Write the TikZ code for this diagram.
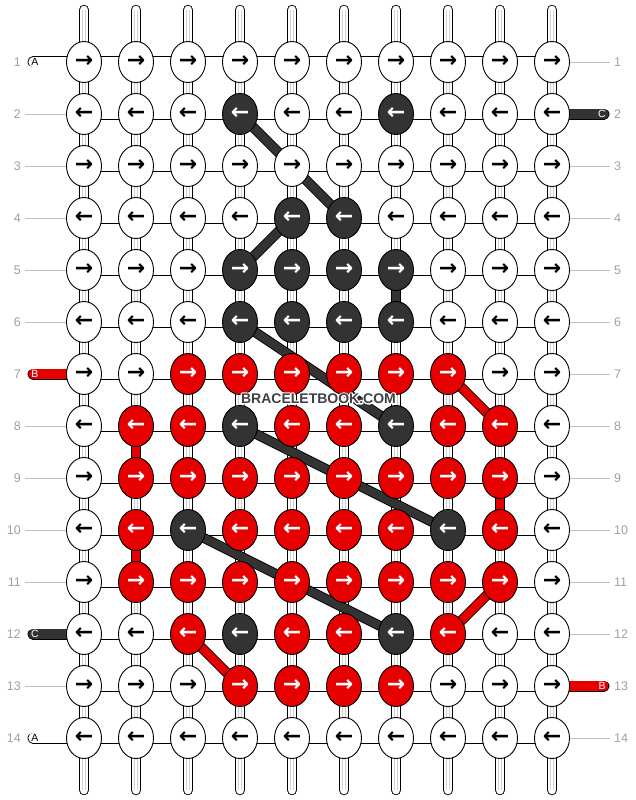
\documentclass[tikz,border=0pt]{standalone}
\usepackage{fontspec}
\setmainfont{Liberation Sans}
\newfontfamily\arrowfont{DejaVu Sans}
\usetikzlibrary{shapes.geometric}
\definecolor{kw}{HTML}{FFFFFF}
\definecolor{kd}{HTML}{333333}
\definecolor{kr}{HTML}{E60000}
\colorlet{tw}{black}
\colorlet{td}{white}
\colorlet{tr}{white}
\definecolor{lbl}{HTML}{A0A0A0}
\definecolor{guidecol}{HTML}{C0C0C0}
\definecolor{wmcol}{HTML}{404040}
\definecolor{seamcol}{HTML}{D0D0D0}
\newcommand\setknot[2]{\expandafter\gdef\csname kc#1\endcsname{#2}}
\begin{document}
\begin{tikzpicture}[x=1pt,y=-1pt,
  hbar/.style={draw=black,line width=0.9pt,double=white,double distance=9.2pt},
  vbar/.style={draw=black,line width=0.9pt,double=white,double distance=8.7pt},
  strand/.style={draw=black,line width=0.9pt,double distance=8.2pt},
  seam/.style={draw=seamcol,line width=0.5pt},
  knot/.style={ellipse,draw=black,line width=0.9pt,minimum width=35pt,minimum height=41pt,inner sep=0pt,
    font=\arrowfont\bfseries\fontsize{22}{22}\selectfont},
  rownum/.style={text=lbl,inner sep=0pt,font=\fontsize{12.5}{12.5}\selectfont},
  guide/.style={draw=guidecol,line width=0.8pt},
  stublbl/.style={inner sep=0pt,font=\fontsize{10.5}{10.5}\selectfont}]
\useasboundingbox (0,0) rectangle (636,800);
% knot colours
\foreach \p in {2-4,2-7,4-5,4-6,5-4,5-5,5-6,5-7,6-4,6-5,6-6,6-7,8-4,8-7,10-3,10-8,12-4,12-7}{\setknot{\p}{d}}
\foreach \p in {7-3,7-4,7-5,7-6,7-7,7-8,
  8-2,8-3,8-5,8-6,8-8,8-9,
  9-2,9-3,9-4,9-5,9-6,9-7,9-8,9-9,
  10-2,10-4,10-5,10-6,10-7,10-9,
  11-2,11-3,11-4,11-5,11-6,11-7,11-8,11-9,
  12-3,12-5,12-6,12-8,
  13-4,13-5,13-6,13-7}{\setknot{\p}{r}}
% coordinates
\foreach \r in {1,...,14}{
  \foreach \c in {1,...,10}{
    \coordinate (p-\r-\c) at ({84+52*(\c-1)},{62+52*(\r-1)});
  }
  \coordinate (gl-\r) at (25,{62+52*(\r-1)});
  \coordinate (gr-\r) at (610,{62+52*(\r-1)});
}
\foreach \c in {1,...,10}{
  \coordinate (t-\c) at ({84+52*(\c-1)},10);
  \coordinate (b-\c) at ({84+52*(\c-1)},790);
}
% row guide lines
\foreach \r in {2,3,4,5,6,8,9,10,11,13}{\draw[guide] (gl-\r) -- (p-\r-1);}
\foreach \r in {1,3,4,5,6,7,8,9,10,11,12,14}{\draw[guide] (p-\r-10) -- (gr-\r);}
% row numbers
\foreach \r in {1,...,14}{
  \node[rownum,anchor=east] (nl-\r) at (21,{62+52*(\r-1)}) {\r};
  \node[rownum,anchor=west] (nr-\r) at (614,{62+52*(\r-1)}) {\r};
}
% top and bottom thread ends
\foreach \c in {1,...,10}{
  \draw[vbar,line cap=round] (t-\c) -- (p-1-\c);
  \draw[vbar,line cap=round] (p-14-\c) -- (b-\c);
  \draw[seam] ([xshift=-1.6pt]t-\c) -- ([xshift=-1.6pt]p-1-\c);
  \draw[seam] ([xshift=1.6pt]t-\c) -- ([xshift=1.6pt]p-1-\c);
  \draw[seam] ([xshift=-1.6pt]p-14-\c) -- ([xshift=-1.6pt]b-\c);
  \draw[seam] ([xshift=1.6pt]p-14-\c) -- ([xshift=1.6pt]b-\c);
}
% horizontal links
\foreach \r in {1,...,14}{
  \foreach \c [count=\cn from 2] in {1,...,9}{
    \draw[hbar] (p-\r-\c) -- (p-\r-\cn);
  }
}
% vertical links
\foreach \r [count=\rn from 2] in {1,...,13}{
  \foreach \c in {1,...,10}{
    \draw[vbar] (p-\r-\c) -- (p-\rn-\c);
    \draw[seam] ([xshift=-1.6pt]p-\r-\c) -- ([xshift=-1.6pt]p-\rn-\c);
    \draw[seam] ([xshift=1.6pt]p-\r-\c) -- ([xshift=1.6pt]p-\rn-\c);
  }
}
% coloured vertical links
\draw[vbar,double=kd] (p-5-7) -- (p-6-7);
\draw[vbar,double=kr] (p-8-2) -- (p-9-2);
\draw[vbar,double=kr] (p-10-2) -- (p-11-2);
\draw[vbar,double=kr] (p-9-9) -- (p-10-9);
% side thread ends
\foreach \r/\col/\lab in {1/w/A,7/r/B,12/d/C,14/w/A}{
  \coordinate (sl-\r) at (33,{62+52*(\r-1)});
  \draw[hbar,double=k\col,line cap=round] (sl-\r) -- (p-\r-1);
  \node[stublbl,text=t\col] (al-\r) at (35,{62+52*(\r-1)}) {\lab};
}
\foreach \r/\col/\lab in {2/d/C,13/r/B}{
  \coordinate (sr-\r) at (604,{62+52*(\r-1)});
  \draw[hbar,double=k\col,line cap=round] (p-\r-10) -- (sr-\r);
  \node[stublbl,text=t\col] (ar-\r) at (602,{62+52*(\r-1)}) {\lab};
}
% diagonal strands
\draw[strand,double=kd] (p-2-4) -- (p-3-5) -- (p-4-6);
\draw[strand,double=kd] (p-4-5) -- (p-5-4);
\draw[strand,double=kd] (p-6-4) -- (p-8-7);
\draw[strand,double=kd] (p-8-4) -- (p-10-8);
\draw[strand,double=kd] (p-10-3) -- (p-12-7);
\draw[strand,double=kr] (p-7-8) -- (p-8-9);
\draw[strand,double=kr] (p-11-9) -- (p-12-8);
\draw[strand,double=kr] (p-12-3) -- (p-13-4);
% knots
\foreach \r in {1,...,14}{
  \foreach \c in {1,...,10}{
    \ifcsname kc\r-\c\endcsname\edef\kcol{\csname kc\r-\c\endcsname}\else\def\kcol{w}\fi
    \node[knot,fill=k\kcol,text=t\kcol] (k-\r-\c) at (p-\r-\c) {\ifodd\r →\else ←\fi};
  }
}
% watermark with light halo
\node[text=white,inner sep=0pt,font=\bfseries\fontsize{14}{14}\selectfont] (wmh) at (318.5,398.5)
  {\special{pdf:literal direct 1 Tr 2.6 w 1 j}BRACELETBOOK.COM\special{pdf:literal direct 0 Tr 0.4 w}};
\node[text=wmcol,inner sep=0pt,font=\bfseries\fontsize{14}{14}\selectfont] (wm) at (318.5,398.5) {BRACELETBOOK.COM};
\end{tikzpicture}
\end{document}
